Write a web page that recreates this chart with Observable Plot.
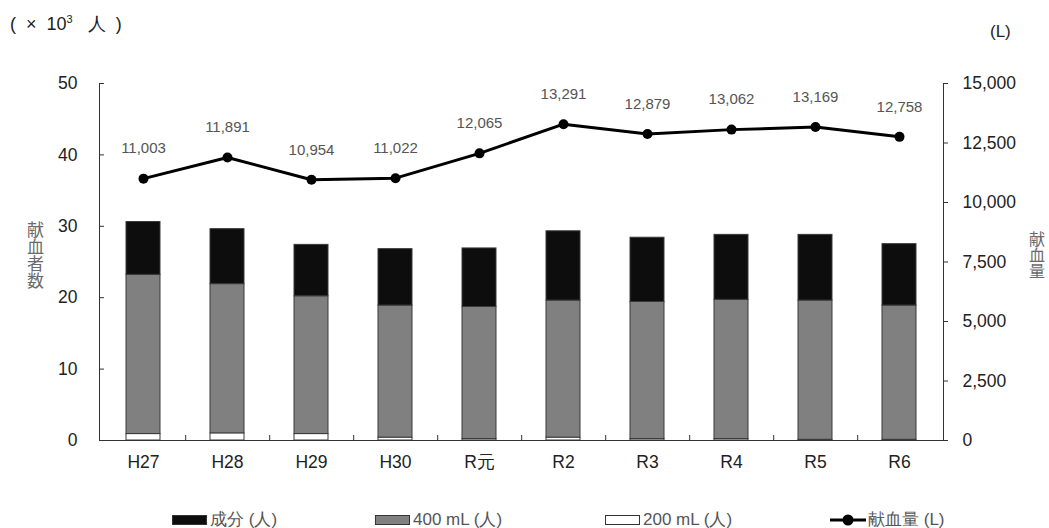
<!DOCTYPE html>
<html>
<head>
<meta charset="utf-8">
<script src="https://cdn.jsdelivr.net/npm/d3@7"></script>
<script src="https://cdn.jsdelivr.net/npm/@observablehq/plot@0.6"></script>
<style>
  body { margin: 0; background: #fff; }
  #wrap { position: relative; width: 1049px; height: 528px; font-family: "Liberation Sans", Arial, sans-serif; }
  .unit { position: absolute; font-size: 18px; color: #222; white-space: pre; }
  .vlabel { position: absolute; writing-mode: vertical-rl; font-family: "Noto Sans CJK JP", sans-serif; font-size: 17px; color: #6a6a6a; line-height: 1; }
  #legend { position: absolute; top: 508px; left: 0; width: 1049px; height: 20px; font-family: "Liberation Sans Narrow", "Liberation Sans", sans-serif; font-size: 17px; color: #555; }
  .item { position: absolute; display: flex; align-items: center; top: 0; }
  .sw { width: 35px; height: 10px; border: 1px solid #333; box-sizing: border-box; margin-right: 3px; }
</style>
</head>
<body>
<div id="wrap">
  <div class="unit" style="left:10px; top:12px;">(  ×  10<sup style="font-size:11px;">3</sup>   人  )</div>
  <div class="unit" style="left:990px; top:22px; font-size:17px;">(L)</div>
  <div class="vlabel" style="left:27px; top:221px;">献血者数</div>
  <div class="vlabel" style="left:1029px; top:231px; font-size:16px;">献血量</div>
  <div id="chart" style="position:absolute; left:0; top:0;"></div>
  <div id="legend"></div>
</div>
<script>
// ---- data ----
const years = ["H27", "H28", "H29", "H30", "R元", "R2", "R3", "R4", "R5", "R6"];
const ml200 = [0.9, 1.0, 0.9, 0.4, 0.2, 0.4, 0.2, 0.2, 0.1, 0.1];          // ×10^3 人
const ml400 = [22.3, 20.9, 19.3, 18.5, 18.5, 19.2, 19.2, 19.5, 19.5, 18.8]; // ×10^3 人
const seibun = [7.4, 7.7, 7.2, 7.9, 8.2, 9.7, 9.0, 9.1, 9.2, 8.6];          // ×10^3 人
const volume = [11003, 11891, 10954, 11022, 12065, 13291, 12879, 13062, 13169, 12758]; // L
const leftTicks = [0, 10, 20, 30, 40, 50];
const rightTicks = [0, 2500, 5000, 7500, 10000, 12500, 15000];
const seriesNames = ["200 mL (人)", "400 mL (人)", "成分 (人)"];
const seriesColors = ["#ffffff", "#808080", "#0d0d0d"];

// ---- build tables ----
const ratio = 15000 / 50;
const segs = [];
years.forEach((y, i) => {
  segs.push({year: y, type: seriesNames[0], value: ml200[i]});
  segs.push({year: y, type: seriesNames[1], value: ml400[i]});
  segs.push({year: y, type: seriesNames[2], value: seibun[i]});
});
const vols = years.map((y, i) => ({year: y, vol: volume[i]}));

const W = 1049, H = 490, mL = 99, mR = 106, mT = 83, mB = 50;
const pw = W - mL - mR, ph = H - mT - mB;
const step = pw / years.length;
const fmt = d3.format(",");
const tickColor = "#333";
const labelColor = "#222";

const chart = Plot.plot({
  width: W, height: H,
  marginLeft: mL, marginRight: mR, marginTop: mT, marginBottom: mB,
  style: {fontFamily: "'Liberation Sans', Arial, sans-serif", fontSize: "17.5px", color: labelColor, background: "transparent"},
  x: {domain: years, paddingInner: 0.6, paddingOuter: 0.3, label: null},
  y: {domain: [0, 50], label: null},
  color: {domain: seriesNames, range: seriesColors},
  marks: [
    Plot.barY(segs, {x: "year", y: "value", fill: "type", stroke: "#3a3a3a", strokeWidth: 1}),
    Plot.frame({anchor: "left", stroke: tickColor}),
    Plot.frame({anchor: "right", stroke: tickColor}),
    Plot.ruleY([0], {stroke: tickColor}),
    Plot.tickY(leftTicks, {y: d => d, insetRight: pw - 5, stroke: tickColor}),
    Plot.tickY(rightTicks, {y: d => d / ratio, insetLeft: pw, insetRight: -5, stroke: tickColor}),
    Plot.tickX(years.slice(0, -1), {x: d => d, dx: step / 2, insetTop: ph - 5, stroke: tickColor}),
    Plot.axisY(leftTicks, {anchor: "left", tickSize: 0, tickPadding: 22, label: null, fill: labelColor, fontSize: 17.5}),
    Plot.axisY(rightTicks.map(v => v / ratio), {anchor: "right", tickSize: 0, tickPadding: 19, label: null, fill: labelColor, fontSize: 17.5,
      tickFormat: d => fmt(Math.round(d * ratio))}),
    Plot.axisX({tickSize: 0, tickPadding: 15, label: null, fill: labelColor, fontSize: 17.5}),
    Plot.line(vols, {x: "year", y: d => d.vol / ratio, stroke: "#000", strokeWidth: 3}),
    Plot.dot(vols, {x: "year", y: d => d.vol / ratio, r: 5, fill: "#000"}),
    Plot.text(vols, {x: "year", y: d => d.vol / ratio, text: d => fmt(d.vol), dy: -30, fontSize: 15, fill: "#555"})
  ]
});
document.getElementById("chart").appendChild(chart);

// ---- legend ----
const legendItems = [
  {label: "成分 (人)", color: seriesColors[2], x: 172},
  {label: "400 mL (人)", color: seriesColors[1], x: 375},
  {label: "200 mL (人)", color: seriesColors[0], x: 605}
];
const lg = document.getElementById("legend");
legendItems.forEach(it => {
  const d = document.createElement("div");
  d.className = "item";
  d.style.left = it.x + "px";
  d.innerHTML = `<span class="sw" style="background:${it.color}"></span><span>${it.label}</span>`;
  lg.appendChild(d);
});
const li = document.createElement("div");
li.className = "item";
li.style.left = "830px";
li.innerHTML = `<svg width="36" height="14" style="margin-right:2px"><line x1="0" y1="7" x2="36" y2="7" stroke="#000" stroke-width="3"/><circle cx="18" cy="7" r="5.5" fill="#000"/></svg><span>献血量 (L)</span>`;
lg.appendChild(li);
</script>
</body>
</html>
